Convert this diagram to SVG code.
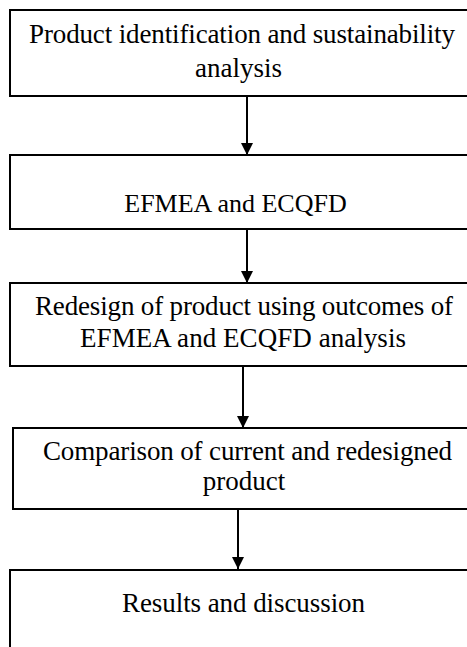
<svg xmlns="http://www.w3.org/2000/svg" width="467" height="647" viewBox="0 0 467 647">
<style>
.box{fill:#fff;stroke:#000;stroke-width:2}
.t{font-family:"Liberation Serif","Times New Roman",serif;font-size:27px;fill:#000;text-anchor:middle}
.c{stroke:#000;stroke-width:2;fill:none}
</style>
<defs>
<marker id="ah" markerUnits="userSpaceOnUse" markerWidth="12" markerHeight="13" refX="12" refY="6" orient="auto" viewBox="0 0 12 12">
<path d="M0,0 L12,6 L0,12 Z" fill="#000"/>
</marker>
</defs>
<rect width="467" height="647" fill="#fff"/>
<g id="connectors">
<line class="c" x1="247" y1="96" x2="247" y2="155" marker-end="url(#ah)"/>
<line class="c" x1="247" y1="229" x2="247" y2="283" marker-end="url(#ah)"/>
<line class="c" x1="243" y1="366" x2="243" y2="428" marker-end="url(#ah)"/>
<line class="c" x1="238" y1="509" x2="238" y2="569" marker-end="url(#ah)"/>
</g>
<g id="n1">
<rect class="box" x="10" y="10" width="470" height="86"/>
<text class="t" x="242" y="43" textLength="426">Product identification and sustainability</text>
<text class="t" x="238.5" y="77">analysis</text>
</g>
<g id="n2">
<rect class="box" x="10" y="155" width="470" height="74"/>
<text class="t" x="235.5" y="212" style="font-size:26px">EFMEA and ECQFD</text>
</g>
<g id="n3">
<rect class="box" x="10" y="283" width="470" height="83"/>
<text class="t" x="244" y="315" textLength="418">Redesign of product using outcomes of</text>
<text class="t" x="243" y="347" textLength="326">EFMEA and ECQFD analysis</text>
</g>
<g id="n4">
<rect class="box" x="13" y="428" width="470" height="81"/>
<text class="t" x="247.5" y="460" textLength="409">Comparison of current and redesigned</text>
<text class="t" x="244" y="490">product</text>
</g>
<g id="n5">
<rect class="box" x="10" y="570" width="470" height="100"/>
<text class="t" x="243.5" y="612" textLength="243">Results and discussion</text>
</g>
</svg>
